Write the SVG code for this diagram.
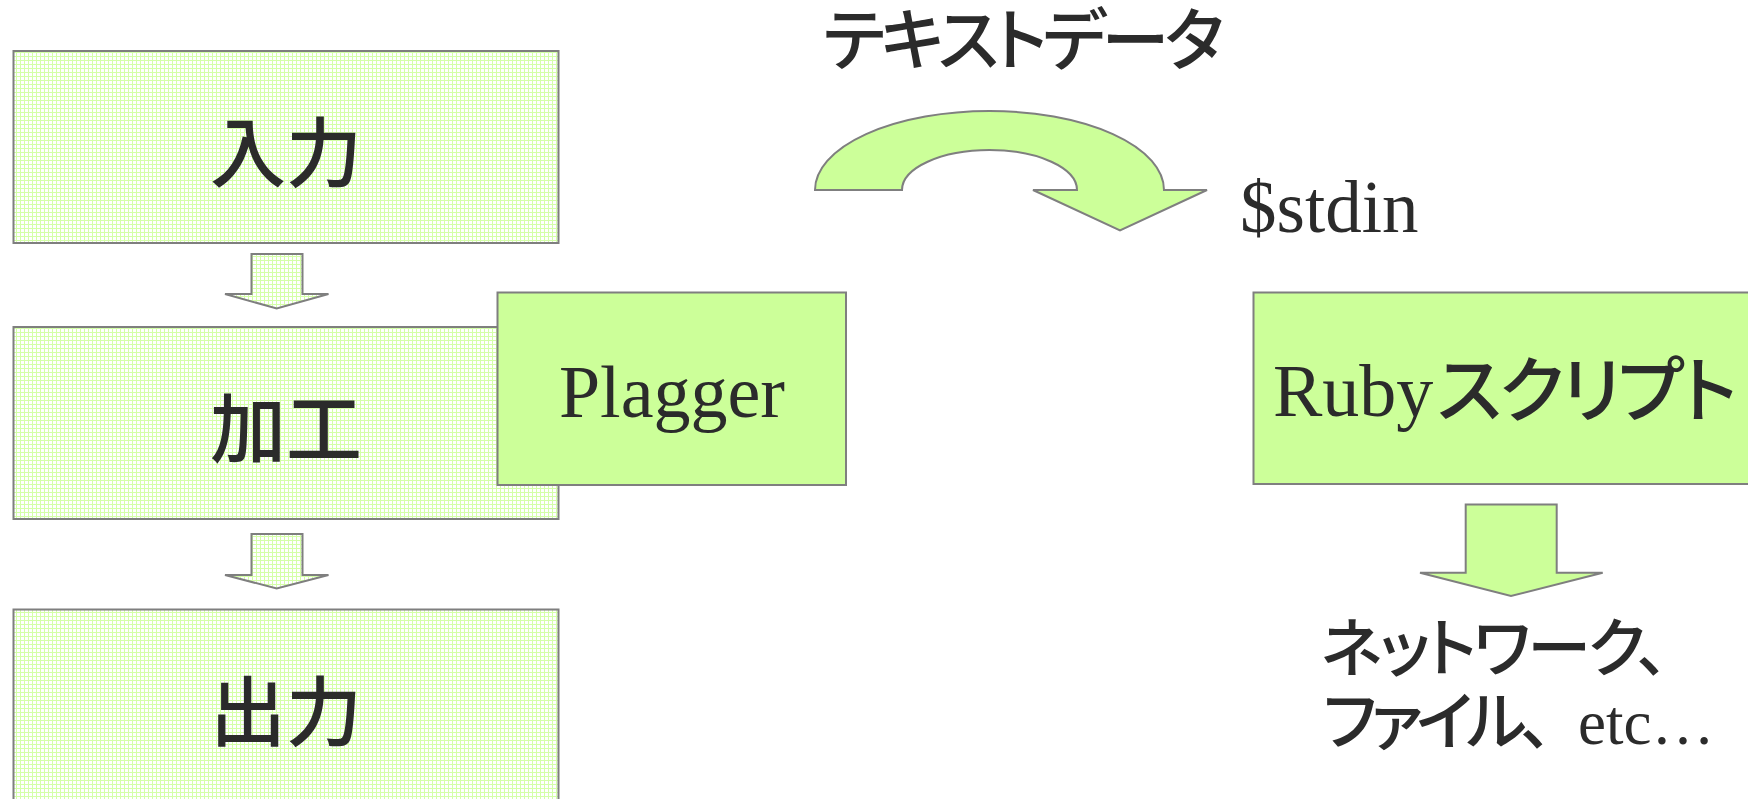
<svg xmlns="http://www.w3.org/2000/svg" width="1748" height="799" viewBox="0 0 1748 799">
<defs>
<pattern id="grid" width="4" height="4" patternUnits="userSpaceOnUse">
<rect width="4" height="4" fill="#ffffff"/>
<rect x="0" y="0" width="4" height="1" fill="#d4ffa8"/>
<rect x="0" y="0" width="1" height="4" fill="#d4ffa8"/>
</pattern>
<style>
.pat{fill:url(#grid);stroke:#7f7f7f;stroke-width:2}
.sol{fill:#ccff99;stroke:#7f7f7f;stroke-width:2}
.jp{font-family:"Noto Sans CJK JP","Noto Sans CJK SC",sans-serif;font-weight:500;fill:#2b2b2b}
.kana{font-feature-settings:"palt" 1}
.lat{font-family:"Liberation Serif","Times New Roman",serif;fill:#2b2b2b}
</style>
</defs>
<rect width="1748" height="799" fill="#ffffff"/>

<g id="node-input">
<rect class="pat" x="13.5" y="51" width="545" height="192"/>
<text class="jp" x="286" y="181" font-size="76" text-anchor="middle">入力</text>
</g>
<g id="node-process">
<rect class="pat" x="13.5" y="327" width="545" height="192"/>
<text class="jp" x="286" y="457" font-size="76" text-anchor="middle">加工</text>
</g>
<g id="node-output">
<rect class="pat" x="13.5" y="609.5" width="545" height="200"/>
<text class="jp" x="286" y="740" font-size="76" text-anchor="middle">出力</text>
</g>
<g id="node-plagger">
<rect class="sol" x="497.5" y="292.5" width="348.5" height="192.5"/>
<text class="lat" x="672" y="416.5" font-size="74" text-anchor="middle">Plagger</text>
</g>
<g id="node-ruby">
<rect class="sol" x="1253.5" y="292.5" width="520" height="191.5"/>
<text y="416"><tspan class="lat" x="1273" font-size="74">Ruby</tspan><tspan class="jp kana" x="1437" font-size="72" style="letter-spacing:-2.5px">スクリプト</tspan></text>
</g>
<g id="label-textdata">
<text class="jp kana" x="823" y="65" font-size="68" style="letter-spacing:-4.3px">テキストデータ</text>
</g>
<g id="label-stdin">
<text class="lat" x="1240" y="231.5" font-size="73">$stdin</text>
</g>
<g id="label-network">
<text class="jp kana" x="1321" y="671" font-size="64" style="letter-spacing:-2.8px">ネットワーク、</text>
<text y="743.5"><tspan class="jp kana" x="1323" font-size="64" style="letter-spacing:-6px">ファイル、</tspan><tspan class="lat" x="1578" font-size="63">etc…</tspan></text>
</g>

<g id="connectors">
<path class="pat" d="M251.5,254 L302.5,254 L302.5,294 L328.5,294 L276.7,308.5 L225,294 L251.5,294 Z"/>
<path class="pat" d="M251.5,534 L302.5,534 L302.5,575 L328.5,575 L276.7,588.5 L225,575 L251.5,575 Z"/>
<path class="sol" d="M1465.7,504.5 L1556.7,504.5 L1556.7,572.7 L1602.7,572.7 L1511,596 L1420,572.7 L1465.7,572.7 Z"/>
<path class="sol" d="M815,190 A174.5,79 0 0 1 1164,190 L1207,190 L1120,230.5 L1033,190 L1077,190 A87.5,40 0 0 0 902,190 Z"/>
</g>
</svg>
